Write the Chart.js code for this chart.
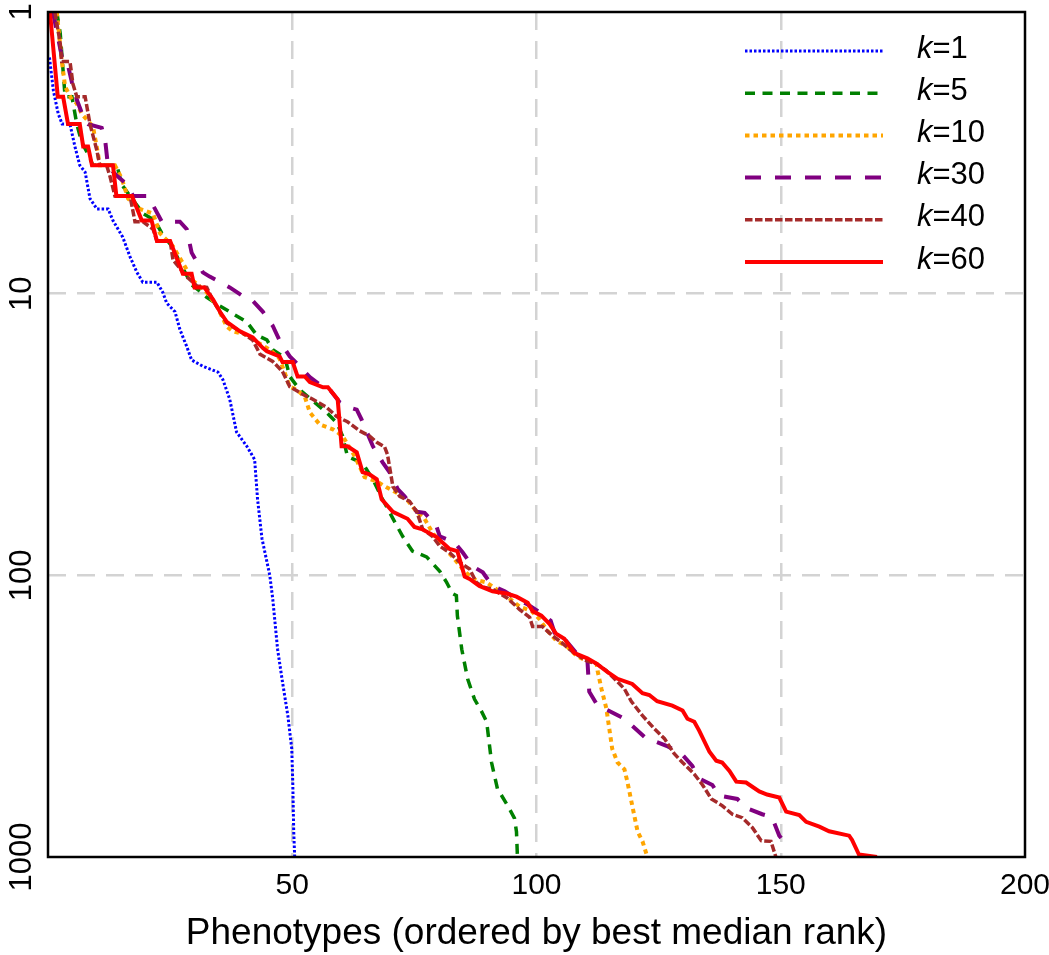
<!DOCTYPE html>
<html>
<head>
<meta charset="utf-8">
<script src="https://cdn.jsdelivr.net/npm/chart.js@4.4.0/dist/chart.umd.min.js"></script>
<style>
  html, body { margin: 0; padding: 0; background: #fff; }
  #wrap { width: 1049px; height: 955px; }
</style>
</head>
<body>
<div id="wrap"><canvas id="rankChart"></canvas></div>
<script>
const FONT = '"Liberation Sans", Arial, sans-serif';

// tick labels
const xTicks = [50, 100, 150, 200];
const yTicks = [1, 10, 100, 1000];

// series labels (k values)
const kValues = [1, 5, 10, 30, 40, 60];

// k=1
const k1X = [0.3, 1.1, 2.1, 2.9, 4.5, 5.5, 6.5, 7.6, 8.6, 10, 12.3, 13.3, 15.3, 16.8, 18.2, 19.4, 22.3, 23.5, 24.3, 26, 27, 28.4, 29.4, 31.7, 34.8, 35.8, 37.2, 38.6, 40.7, 42.3, 42.9, 43.8, 45.4, 46, 47, 48, 49.1, 49.9, 50.1, 50.3, 50.5];
const k1Y = [1.45, 1.9, 2.3, 2.5, 2.5, 3.0, 3.5, 3.7, 4.6, 5, 5, 5.5, 6.3, 7.4, 8.4, 9.1, 9.1, 9.9, 10.8, 11.6, 13.4, 15.4, 17.2, 18.1, 19, 20.2, 23.7, 31, 34.8, 38.8, 53.7, 74, 100, 121, 183, 239, 315, 413, 540, 813, 1000];

// k=5
const k5X = [1.8, 2.5, 3.5, 4.9, 5.9, 6.9, 8.2, 9.2, 14.1, 15.1, 16.8, 19.5, 21.9, 23.5, 25.4, 27.4, 29.4, 31.1, 32.5, 34.6, 37.2, 40.7, 42.7, 44.8, 46, 48.5, 49.5, 51.5, 54.2, 57, 59.1, 60.3, 61.3, 64.4, 66.5, 68.5, 71, 72.6, 74.6, 77.5, 80.2, 81.6, 82.8, 83.6, 83.8, 84.7, 85.9, 87.3, 88.7, 89.8, 90.8, 92, 94.1, 95.5, 95.9, 96.1];
const k5Y = [1, 1.19, 2, 2, 2.5, 2.9, 3.2, 3.5, 3.5, 4.1, 4.5, 5.2, 5.5, 6.2, 6.8, 8, 9.3, 9.8, 10.3, 10.9, 11.6, 12.6, 14, 14.6, 15.8, 16.9, 19.7, 21.9, 24, 26.4, 28.7, 32, 37.8, 40, 45.6, 53.7, 64.7, 72.7, 82, 86, 96.7, 106, 116, 118, 139, 183, 233, 275, 303, 331, 462, 572, 657, 729, 813, 1000];

// k=10
const k10X = [1.8, 2.8, 3.5, 4.9, 5.8, 6.9, 9.2, 10.2, 10.6, 13.7, 15.1, 16.4, 18.8, 21.5, 22.9, 25.6, 28, 29.7, 32.5, 34.6, 36.6, 37.8, 40.7, 42.9, 45.4, 47.4, 49.5, 50.9, 52.6, 53.6, 55.6, 58.3, 60.3, 62.8, 64.8, 67.3, 69.3, 71.4, 73.4, 75.5, 77.1, 78.7, 80.8, 82.8, 84.9, 86.9, 89.8, 92.4, 94.5, 96.5, 99, 100.6, 102.2, 104.1, 106.1, 108.2, 110.2, 112.3, 112.5, 113.3, 114.3, 115.5, 116.6, 118, 118.6, 119.6, 120.7, 121.7, 122.7];
const k10Y = [1, 1.48, 1.84, 2.05, 2.1, 2.3, 2.55, 3.16, 3.5, 3.5, 3.9, 4.6, 5, 5.2, 6.1, 6.8, 8, 9, 9.9, 11.1, 13.1, 13.6, 14, 14.9, 15.8, 17, 21.4, 21.9, 23.3, 26.4, 29.1, 30.3, 32, 37.8, 44.8, 46.4, 48.7, 50.9, 53.7, 59.5, 63, 70.5, 78.8, 86, 95, 103, 106, 114, 121, 129, 134, 143, 157, 171, 178, 193, 201, 206, 218, 253, 297, 413, 462, 488, 540, 657, 813, 880, 1000];

// k=30
const k30X = [1, 2, 3.1, 4.1, 4.9, 5.9, 7.6, 8.2, 11, 11.7, 12.3, 14.3, 16.2, 17.4, 20.4, 21.9, 23.3, 27, 28.4, 29.4, 31.7, 33.1, 37.2, 39.9, 41.9, 44, 46, 47.6, 49.5, 51.5, 53.6, 55.6, 57.7, 59.7, 61.5, 63.2, 64.2, 66.5, 68.5, 69.9, 71.6, 73, 75.5, 77.1, 79.5, 80.2, 83.2, 84.9, 86.9, 89, 91, 93.5, 95.9, 98.2, 101.2, 102.9, 104.1, 106.1, 108.8, 110.4, 110.8, 112.5, 114.9, 118, 119.6, 122.5, 124.5, 126.6, 129.7, 131.9, 133.3, 136, 137.4, 141.1, 143.1, 146.2, 148, 148.7, 149.7, 151.5];
const k30Y = [1, 1.22, 1.52, 1.55, 1.78, 2.05, 2.45, 2.5, 2.58, 2.85, 3.55, 3.84, 4.1, 4.5, 4.5, 5, 5.55, 5.55, 5.9, 7.15, 8.4, 8.7, 9.5, 10.2, 10.6, 11.6, 13, 14.9, 16.7, 18.1, 19.8, 21, 21.9, 24.3, 25.3, 25.8, 28, 34.8, 39.7, 43, 49.4, 52.4, 59.5, 60, 66.8, 72.7, 76.3, 83, 92.8, 97.6, 109, 114, 121, 127, 137, 145, 168, 171, 195, 197, 259, 290, 303, 323, 342, 380, 390, 403, 430, 475, 526, 555, 605, 622, 672, 705, 720, 760, 840, 920];

// k=40
const k40X = [1.4, 2.5, 2.8, 4.5, 5.1, 5.9, 7.6, 8.6, 10, 10.6, 12, 12.7, 13.7, 16.8, 17.8, 19.4, 21.5, 22.3, 25, 25.6, 28.4, 30.5, 32.5, 33.8, 36.6, 39.3, 41.9, 43.4, 46, 48, 49.5, 52.2, 54.2, 57, 59.1, 61.3, 63.8, 65.8, 67.3, 68.9, 69.5, 70.6, 72, 74, 75.5, 76.7, 78.7, 80.2, 82.2, 84.3, 86.3, 87.7, 89, 91, 93.9, 96.5, 98.6, 99.2, 101.2, 103.3, 105.1, 107.4, 110.2, 112.3, 114.3, 116.4, 118, 119.4, 121.7, 124.1, 126.2, 128.2, 129.9, 132.3, 134, 135.8, 138, 140.1, 142.1, 144.2, 146, 148, 149];
const k40Y = [1, 1.29, 1.5, 1.5, 1.8, 2, 2, 2.5, 3.1, 3.5, 3.5, 3.84, 4.5, 4.5, 5.55, 5.55, 5.9, 6.5, 6.5, 7.6, 8.7, 9.4, 9.5, 10.6, 12.7, 13.6, 14.6, 16.4, 17.4, 18.9, 21.4, 22.8, 23.7, 25.3, 27.3, 28.5, 30.7, 32, 33.7, 35, 37.3, 48.4, 52.4, 54.6, 59.5, 68.5, 72.7, 78.8, 83, 90, 95, 106, 110, 112, 120, 132, 141, 152, 152, 164, 173, 187, 201, 206, 218, 237, 253, 280, 315, 350, 380, 430, 462, 508, 555, 622, 657, 705, 725, 787, 875, 880, 1000];

// k=60
const k60X = [0.4, 2, 3.1, 4.1, 6.5, 7.2, 8.2, 9, 13.3, 14, 17.2, 19.2, 21.2, 22.3, 25, 27.6, 29.4, 30, 32, 33.8, 35.2, 36.6, 39.3, 41.9, 44, 44.8, 47.4, 48, 50.1, 51.1, 52.6, 53.6, 56.3, 57.3, 59.3, 59.7, 60.1, 61.3, 63.2, 64.4, 65.8, 67.3, 68.3, 70.6, 73.6, 75, 76.5, 79.5, 82.2, 83.8, 85.3, 86.3, 88.3, 91, 93.9, 95.9, 98.2, 99.2, 101, 102.7, 104, 105.7, 107.8, 110.4, 112.3, 114.5, 116.6, 119.6, 121.7, 123.1, 124.7, 127.8, 129.9, 130.9, 132.3, 133.3, 135.4, 136.8, 138, 139.5, 140.9, 142.9, 145.6, 147.2, 149.7, 151.1, 153.8, 155.2, 157.9, 159.9, 164, 164.6, 166, 169.7];
const k60Y = [1, 2, 2, 2.5, 2.5, 3, 3, 3.5, 3.5, 4.5, 4.5, 5.5, 5.5, 6.5, 6.5, 8.5, 8.5, 9.5, 9.5, 10.5, 11.6, 12.6, 13.6, 14.3, 15.6, 16, 16.7, 17.5, 17.5, 19.7, 19.7, 20.6, 21.5, 21.5, 23.7, 28.7, 34.8, 34.8, 36.6, 43, 43.8, 45.6, 53.7, 59.5, 63, 67.3, 68.5, 73, 80.6, 82, 101, 103, 109, 114, 116, 119, 125, 134, 139, 149, 161, 168, 189, 197, 206, 220, 233, 243, 262, 266, 280, 290, 302, 323, 331, 356, 423, 455, 462, 495, 540, 544, 585, 600, 615, 690, 710, 750, 780, 810, 840, 870, 980, 1000];

const seriesX = [k1X, k5X, k10X, k30X, k40X, k60X];
const seriesY = [k1Y, k5Y, k10Y, k30Y, k40Y, k60Y];
const colors = ['#0000ff', '#008000', '#ffa500', '#800080', '#a52a2a', '#ff0000'];
const dashes = [[2.5, 2], [10, 7.5], [4.5, 4], [16, 14], [7.5, 2.5], []];
const widths = [3, 3.5, 4, 4, 3.5, 4];

const toPoints = (xs, ys) => xs.map((x, i) => ({ x: x, y: ys[i] }));

const datasets = kValues.map((k, i) => ({
    label: 'k=' + k,
    data: toPoints(seriesX[i], seriesY[i]),
    borderColor: colors[i],
    backgroundColor: colors[i],
    borderDash: dashes[i],
    borderWidth: widths[i],
    borderCapStyle: 'butt',
    pointRadius: 0,
    tension: 0,
    fill: false,
    order: kValues.length - i
}));

// frame, rotated y labels and the legend with an italic k
const decorations = {
    id: 'decorations',
    afterDraw(chart) {
        const { ctx, chartArea: a, scales } = chart;
        ctx.save();
        ctx.strokeStyle = '#000';
        ctx.lineWidth = 2.5;
        ctx.setLineDash([]);
        ctx.strokeRect(a.left, a.top, a.right - a.left, a.bottom - a.top);

        ctx.fillStyle = '#000';
        ctx.font = '31px ' + FONT;
        ctx.textAlign = 'center';
        ctx.textBaseline = 'middle';
        yTicks.forEach(v => {
            ctx.save();
            ctx.translate(22, scales.y.getPixelForValue(v));
            ctx.rotate(-Math.PI / 2);
            ctx.fillText(String(v), 0, 0);
            ctx.restore();
        });

        const rowTop = 51, rowStep = 42.2;
        chart.data.datasets.forEach((ds, i) => {
            const yy = rowTop + i * rowStep;
            ctx.beginPath();
            ctx.strokeStyle = ds.borderColor;
            ctx.lineWidth = ds.borderWidth;
            ctx.setLineDash(ds.borderDash);
            ctx.moveTo(745, yy);
            ctx.lineTo(883, yy);
            ctx.stroke();
            ctx.setLineDash([]);
            ctx.textAlign = 'left';
            ctx.font = 'italic 31px ' + FONT;
            ctx.fillText('k', 917, yy - 2);
            const kw = ctx.measureText('k').width;
            ctx.font = '31px ' + FONT;
            ctx.fillText('=' + kValues[i], 917 + kw, yy - 2);
        });
        ctx.restore();
    }
};

const gridGray = '#d3d3d3';

new Chart(document.getElementById('rankChart').getContext('2d'), {
    type: 'line',
    data: { datasets: datasets },
    options: {
        responsive: true,
        maintainAspectRatio: false,
        animation: false,
        devicePixelRatio: 1,
        layout: { padding: { left: 48, right: 24, top: 12, bottom: 0 } },
        plugins: {
            legend: { display: false },
            tooltip: { enabled: false }
        },
        scales: {
            x: {
                type: 'linear',
                min: 0,
                max: 200,
                afterBuildTicks: s => { s.ticks = [0].concat(xTicks).map(v => ({ value: v })); },
                afterFit: s => { s.paddingLeft = 0; s.paddingRight = 0; },
                ticks: {
                    color: '#000',
                    padding: 14,
                    maxRotation: 0,
                    font: { family: FONT, size: 30, lineHeight: 1.0 },
                    callback: v => (v === 0 ? '' : String(v))
                },
                grid: {
                    drawTicks: false,
                    lineWidth: 2.5,
                    color: c => (c.tick && c.tick.value > 0 && c.tick.value < 200 ? gridGray : 'rgba(0,0,0,0)')
                },
                border: { display: false, dash: [18, 11] },
                title: {
                    display: true,
                    text: 'Phenotypes (ordered by best median rank)',
                    color: '#000',
                    font: { family: FONT, size: 37, lineHeight: 1.0 },
                    padding: { top: 0, bottom: 3 }
                }
            },
            y: {
                type: 'logarithmic',
                reverse: true,
                min: 1,
                max: 1000,
                afterBuildTicks: s => { s.ticks = yTicks.map(v => ({ value: v })); },
                ticks: { display: false },
                grid: {
                    drawTicks: false,
                    lineWidth: 2.5,
                    color: c => (c.tick && c.tick.value > 1 && c.tick.value < 1000 ? gridGray : 'rgba(0,0,0,0)')
                },
                border: { display: false, dash: [18, 11] }
            }
        }
    },
    plugins: [decorations]
});
</script>
</body>
</html>
